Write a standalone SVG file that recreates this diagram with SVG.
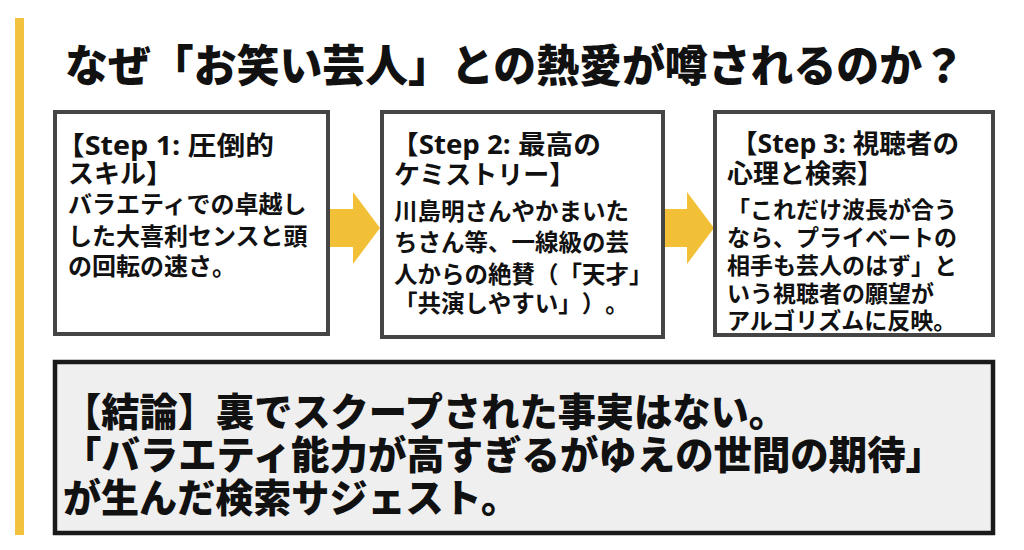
<svg xmlns="http://www.w3.org/2000/svg" width="1024" height="550" viewBox="0 0 1024 550">
<style>
.t{font-family:"Noto Sans CJK JP","Noto Sans",sans-serif;fill:#111;text-spacing-trim:space-all}
.title{font-size:44px;font-weight:900}
.hd{font-size:26px;font-weight:700}
.lat{font-family:"Open Sans","Noto Sans CJK JP",sans-serif}
.bd{font-size:24px;font-weight:700}
.bd2{font-size:23.5px;font-weight:700}
.bd3{font-size:23px;font-weight:700}
.cc{font-size:39px;font-weight:900}
.step{fill:#fff;stroke:#454545;stroke-width:4}
.arrow{fill:#F2C037}
</style>
<rect x="0" y="0" width="1024" height="550" fill="#fff"/>
<rect x="15" y="18" width="9" height="517" fill="#F2C23E"/>
<text class="t title" x="65" y="82" textLength="900" lengthAdjust="spacingAndGlyphs">なぜ「お笑い芸人」との熱愛が噂されるのか？</text>
<g id="connectors">
<polygon class="arrow" points="330,209 353,209 353,192 380,228 353,264 353,247 330,247"/>
<polygon class="arrow" points="663,209 687,209 687,192 714,228 687,264 687,247 663,247"/>
</g>
<g id="step1">
<rect class="step" x="55" y="112" width="273" height="222"/>
<text class="t hd" x="56" y="155" textLength="218" lengthAdjust="spacingAndGlyphs">【<tspan class="lat">Step 1: </tspan>圧倒的</text>
<text class="t hd" x="68" y="183">スキル】</text>
<text class="t bd" x="68" y="213">バラエティでの卓越し</text>
<text class="t bd" x="68" y="245">した大喜利センスと頭</text>
<text class="t bd" x="68" y="275">の回転の速さ。</text>
</g>
<g id="step2">
<rect class="step" x="382" y="112" width="281" height="225"/>
<text class="t hd" x="391" y="154" textLength="210" lengthAdjust="spacingAndGlyphs">【<tspan class="lat">Step 2: </tspan>最高の</text>
<text class="t hd" x="394" y="184">ケミストリー】</text>
<text class="t bd2" x="394" y="220">川島明さんやかまいた</text>
<text class="t bd2" x="394" y="251">ちさん等、一線級の芸</text>
<text class="t bd2" x="394" y="283">人からの絶賛（「天才」</text>
<text class="t bd2" x="394" y="312">「共演しやすい」）。</text>
</g>
<g id="step3">
<rect class="step" x="715" y="112" width="278" height="223"/>
<text class="t hd" x="731" y="153" textLength="228" lengthAdjust="spacingAndGlyphs">【<tspan class="lat">Step 3: </tspan>視聴者の</text>
<text class="t hd" x="727" y="183">心理と検索】</text>
<text class="t bd3" x="727" y="218">「これだけ波長が合う</text>
<text class="t bd3" x="727" y="246">なら、プライベートの</text>
<text class="t bd3" x="727" y="274">相手も芸人のはず」と</text>
<text class="t bd3" x="727" y="302">いう視聴者の願望が</text>
<text class="t bd3" x="727" y="329">アルゴリズムに反映。</text>
</g>
<g id="conclusion">
<rect x="55" y="362" width="938" height="171" fill="#EFEFEF" stroke="#1a1a1a" stroke-width="4.5"/>
<text class="t cc" x="63" y="426" textLength="724" lengthAdjust="spacingAndGlyphs">【結論】裏でスクープされた事実はない。</text>
<text class="t cc" x="63" y="469" textLength="881" lengthAdjust="spacingAndGlyphs">「バラエティ能力が高すぎるがゆえの世間の期待」</text>
<text class="t cc" x="63" y="512" textLength="456" lengthAdjust="spacingAndGlyphs">が生んだ検索サジェスト。</text>
</g>
</svg>
